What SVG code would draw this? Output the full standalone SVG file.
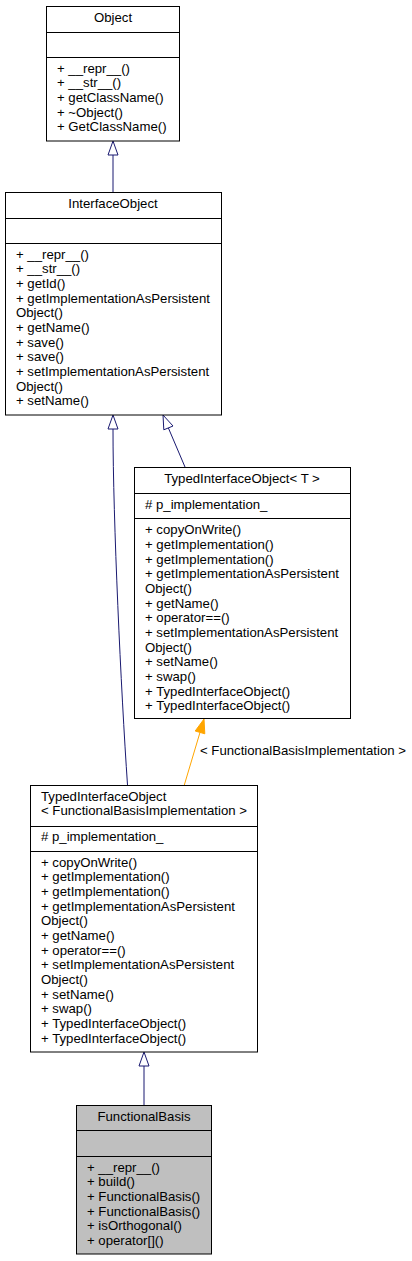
<svg xmlns="http://www.w3.org/2000/svg" width="412" height="1261" viewBox="0 0 412 1261">
<defs>
<style>
text{font-family:"Liberation Sans",Arial,Helvetica,sans-serif;font-size:13.2px;fill:#000}
.c{text-anchor:middle}
.box{fill:#fff;stroke:#000;stroke-width:1}
.cur{fill:#bfbfbf;stroke:#000;stroke-width:1}
.sep{stroke:#000;stroke-width:1}
.e{fill:none;stroke:#191970;stroke-width:1}
.h{fill:#fff;stroke:#191970;stroke-width:1}
.o{fill:none;stroke:#ffa500;stroke-width:1}
.oh{fill:#ffa500;stroke:#ffa500;stroke-width:1}
</style>
</defs>
<rect width="412" height="1261" fill="#fff"/>
<g id="connectors">
<line class="e" x1="113" y1="192" x2="113" y2="155"/>
<polygon class="h" points="113,141 108,155 118,155"/>
<line class="e" x1="185" y1="467" x2="168.4" y2="428"/>
<polygon class="h" points="163,415 173,426 163.8,429.8"/>
<path class="e" d="M127.5,785 C121,690 113,520 113,429"/>
<polygon class="h" points="113,415 108,429 118,429"/>
<line class="o" x1="184" y1="786" x2="200" y2="732.4"/>
<polygon class="oh" points="204,719 204.8,733.8 195.2,731"/>
<text x="200" y="755">&lt; FunctionalBasisImplementation &gt;</text>
<line class="e" x1="144" y1="1105" x2="144" y2="1066"/>
<polygon class="h" points="144,1052 139,1066 149,1066"/>
</g>
<g id="Object">
<rect class="box" x="46.5" y="6.5" width="133" height="134.5"/>
<line class="sep" x1="46.5" y1="32.5" x2="179.5" y2="32.5"/>
<line class="sep" x1="46.5" y1="57.5" x2="179.5" y2="57.5"/>
<text class="c" x="113" y="21.5">Object</text>
<text x="57" y="72.7">+ __repr__()</text>
<text x="57" y="87.4">+ __str__()</text>
<text x="57" y="102">+ getClassName()</text>
<text x="57" y="116.7">+ ~Object()</text>
<text x="57" y="131.4">+ GetClassName()</text>
</g>
<g id="InterfaceObject">
<rect class="box" x="5.5" y="192.5" width="216" height="222.5"/>
<line class="sep" x1="5.5" y1="218.5" x2="221.5" y2="218.5"/>
<line class="sep" x1="5.5" y1="243.5" x2="221.5" y2="243.5"/>
<text class="c" x="113" y="207.5">InterfaceObject</text>
<text x="16" y="258.7">+ __repr__()</text>
<text x="16" y="273.4">+ __str__()</text>
<text x="16" y="288">+ getId()</text>
<text x="16" y="302.7">+ getImplementationAsPersistent</text>
<text x="16" y="317.4">Object()</text>
<text x="16" y="332">+ getName()</text>
<text x="16" y="346.7">+ save()</text>
<text x="16" y="361.4">+ save()</text>
<text x="16" y="376">+ setImplementationAsPersistent</text>
<text x="16" y="390.7">Object()</text>
<text x="16" y="405.4">+ setName()</text>
</g>
<g id="TypedInterfaceObjectT">
<rect class="box" x="134.5" y="467.5" width="216" height="251"/>
<line class="sep" x1="134.5" y1="493.5" x2="350.5" y2="493.5"/>
<line class="sep" x1="134.5" y1="518.5" x2="350.5" y2="518.5"/>
<text class="c" x="242" y="482.5">TypedInterfaceObject&lt; T &gt;</text>
<text x="145" y="508.5"># p_implementation_</text>
<text x="145" y="534.2">+ copyOnWrite()</text>
<text x="145" y="548.9">+ getImplementation()</text>
<text x="145" y="563.5">+ getImplementation()</text>
<text x="145" y="578.2">+ getImplementationAsPersistent</text>
<text x="145" y="592.9">Object()</text>
<text x="145" y="607.6">+ getName()</text>
<text x="145" y="622.2">+ operator==()</text>
<text x="145" y="636.9">+ setImplementationAsPersistent</text>
<text x="145" y="651.6">Object()</text>
<text x="145" y="666.2">+ setName()</text>
<text x="145" y="680.9">+ swap()</text>
<text x="145" y="695.6">+ TypedInterfaceObject()</text>
<text x="145" y="710.2">+ TypedInterfaceObject()</text>
</g>
<g id="TypedInterfaceObjectFBI">
<rect class="box" x="30.5" y="785.5" width="227" height="266.5"/>
<line class="sep" x1="30.5" y1="826.5" x2="257.5" y2="826.5"/>
<line class="sep" x1="30.5" y1="851.5" x2="257.5" y2="851.5"/>
<text x="41" y="800.5">TypedInterfaceObject</text>
<text x="41" y="815.2">&lt; FunctionalBasisImplementation &gt;</text>
<text x="41" y="841"># p_implementation_</text>
<text x="41" y="866.7">+ copyOnWrite()</text>
<text x="41" y="881.4">+ getImplementation()</text>
<text x="41" y="896">+ getImplementation()</text>
<text x="41" y="910.7">+ getImplementationAsPersistent</text>
<text x="41" y="925.4">Object()</text>
<text x="41" y="940">+ getName()</text>
<text x="41" y="954.7">+ operator==()</text>
<text x="41" y="969.4">+ setImplementationAsPersistent</text>
<text x="41" y="984">Object()</text>
<text x="41" y="998.7">+ setName()</text>
<text x="41" y="1013.4">+ swap()</text>
<text x="41" y="1028">+ TypedInterfaceObject()</text>
<text x="41" y="1042.7">+ TypedInterfaceObject()</text>
</g>
<g id="FunctionalBasis">
<rect class="cur" x="76.5" y="1105.5" width="135" height="148.5"/>
<line class="sep" x1="76.5" y1="1130.5" x2="211.5" y2="1130.5"/>
<line class="sep" x1="76.5" y1="1156.5" x2="211.5" y2="1156.5"/>
<text class="c" x="144" y="1120.5">FunctionalBasis</text>
<text x="87" y="1171.7">+ __repr__()</text>
<text x="87" y="1186.4">+ build()</text>
<text x="87" y="1201">+ FunctionalBasis()</text>
<text x="87" y="1215.7">+ FunctionalBasis()</text>
<text x="87" y="1230.4">+ isOrthogonal()</text>
<text x="87" y="1245">+ operator[]()</text>
</g>
</svg>
